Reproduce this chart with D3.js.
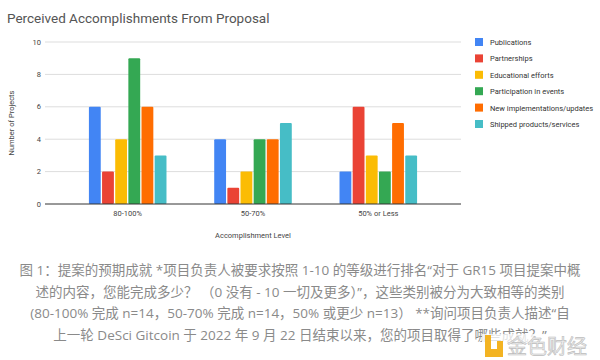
<!DOCTYPE html>
<html>
<head>
<meta charset="utf-8" />
<style>
  body { margin: 0; background: #fff; }
  svg { display: block; font-family: Roboto, Arial, sans-serif; }
</style>
</head>
<body>
<div id="chart"></div>
<script src="https://d3js.org/d3.v7.min.js"></script>
<script>
var categories = ["80-100%", "50-70%", "50% or Less"];
var series = ["Publications", "Partnerships", "Educational efforts",
              "Participation in events", "New implementations/updates", "Shipped products/services"];
var colors = ["#4285f4", "#ea4335", "#fbbc04", "#34a853", "#ff6d01", "#46bdc6"];
var publications = [6, 4, 2];
var partnerships = [2, 1, 6];
var educational = [4, 2, 3];
var participation = [9, 4, 2];
var implementations = [6, 4, 5];
var shipped = [3, 5, 3];
var yTicks = [0, 2, 4, 6, 8, 10];
var caption = [
  "图 1：提案的预期成就 *项目负责人被要求按照 1-10 的等级进行排名“对于 GR15 项目提案中概",
  "述的内容，您能完成多少？ （0 没有 - 10 一切及更多）”，这些类别被分为大致相等的类别",
  "(80-100% 完成 n=14，50-70% 完成 n=14，50% 或更少 n=13） **询问项目负责人描述“自",
  "上一轮 DeSci Gitcoin 于 2022 年 9 月 22 日结束以来，您的项目取得了哪些成就？”"
];

var values = [publications, partnerships, educational, participation, implementations, shipped];

var width = 600, height = 360;
var svg = d3.select("#chart").append("svg")
  .attr("width", width).attr("height", height);

// title
svg.append("text")
  .attr("x", 7).attr("y", 23)
  .attr("font-size", 13.5).attr("fill", "#555")
  .text("Perceived Accomplishments From Proposal");

var plotLeft = 45, plotRight = 461, plotTop = 42, plotBottom = 204;

var y = d3.scaleLinear().domain([0, 10]).range([plotBottom, plotTop]);
var x0 = d3.scaleBand().domain(categories).range([plotLeft, plotRight])
  .paddingInner(0.36).paddingOuter(0.34);
var x1 = d3.scaleBand().domain(series).range([0, x0.bandwidth()]).padding(0.1);

// grid
svg.append("g").selectAll("line")
  .data(yTicks.filter(function(d) { return d > 0; }))
  .enter().append("line")
  .attr("x1", plotLeft).attr("x2", plotRight)
  .attr("y1", function(d) { return y(d); })
  .attr("y2", function(d) { return y(d); })
  .attr("stroke", "#ddd").attr("stroke-width", 1);

// y tick labels
svg.append("g").selectAll("text")
  .data(yTicks).enter().append("text")
  .attr("x", 41).attr("y", function(d) { return y(d) + 2.5; })
  .attr("text-anchor", "end")
  .attr("font-size", 7.5).attr("fill", "#444")
  .text(function(d) { return d; });

svg.append("text")
  .attr("transform", "translate(14," + ((plotTop + plotBottom) / 2) + ") rotate(-90)")
  .attr("text-anchor", "middle")
  .attr("font-size", 7.5).attr("fill", "#444")
  .text("Number of Projects");

// bars
var groups = svg.append("g").selectAll("g")
  .data(categories).enter().append("g")
  .attr("transform", function(d) { return "translate(" + x0(d) + ",0)"; });

groups.selectAll("rect")
  .data(function(d, i) {
    return series.map(function(s, j) { return { s: s, v: values[j][i], c: colors[j] }; });
  })
  .enter().append("rect")
  .attr("x", function(d) { return x1(d.s); })
  .attr("y", function(d) { return y(d.v); })
  .attr("width", x1.bandwidth())
  .attr("height", function(d) { return y(0) - y(d.v); })
  .attr("rx", 1)
  .attr("fill", function(d) { return d.c; });

// zero line
svg.append("line")
  .attr("x1", plotLeft).attr("x2", plotRight)
  .attr("y1", y(0)).attr("y2", y(0))
  .attr("stroke", "#333").attr("stroke-width", 1);

// x labels
svg.append("g").selectAll("text")
  .data(categories).enter().append("text")
  .attr("x", function(d) { return x0(d) + x0.bandwidth() / 2; })
  .attr("y", 216)
  .attr("text-anchor", "middle")
  .attr("font-size", 7.5).attr("fill", "#444")
  .text(function(d) { return d; });

svg.append("text")
  .attr("x", 253).attr("y", 238)
  .attr("text-anchor", "middle")
  .attr("font-size", 7.5).attr("fill", "#444")
  .text("Accomplishment Level");

// legend
var legend = svg.append("g").selectAll("g")
  .data(series).enter().append("g")
  .attr("transform", function(d, i) { return "translate(475," + (38 + i * 16.4) + ")"; });

legend.append("rect")
  .attr("width", 8).attr("height", 8)
  .attr("fill", function(d, i) { return colors[i]; });

legend.append("text")
  .attr("x", 15).attr("y", 7)
  .attr("font-size", 7.5).attr("fill", "#333")
  .text(function(d) { return d; });

// caption
svg.append("g").selectAll("text")
  .data(caption).enter().append("text")
  .attr("x", 300).attr("y", function(d, i) { return 275 + i * 21.7; })
  .attr("text-anchor", "middle")
  .attr("font-family", "'Open Sans', 'Noto Sans CJK SC', sans-serif")
  .attr("font-size", 13.5).attr("fill", "#8a8a8a")
  .text(function(d) { return d; });

// watermark
var wm = svg.append("g").attr("transform", "translate(484,334)");
wm.append("rect").attr("x", -2).attr("y", 0).attr("width", 112).attr("height", 24)
  .attr("fill", "#fff").attr("opacity", 0.75);
wm.append("path")
  .attr("d", "M1,1 H7 V15 H13 V7 H19 V23 H1 Z")
  .attr("fill", "#f3b322");
wm.append("text").attr("x", 23).attr("y", 20)
  .attr("font-family", "'Noto Sans CJK SC', sans-serif")
  .attr("font-size", 20).attr("fill", "#ececec")
  .attr("stroke", "#bdbdbd").attr("stroke-width", 0.6)
  .text("金色财经");
</script>
</body>
</html>
